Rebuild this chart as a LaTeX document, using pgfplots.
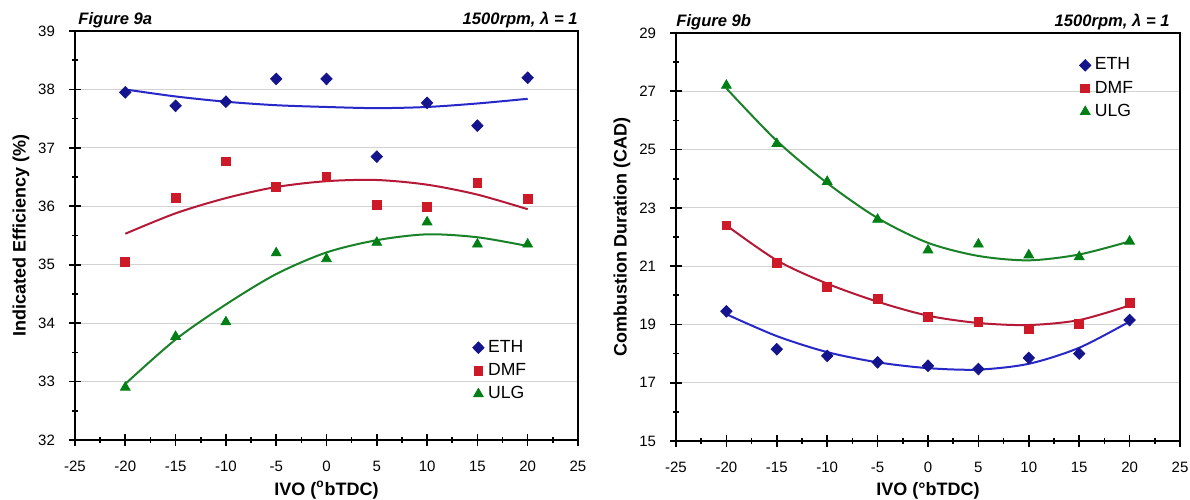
\documentclass[border=0pt]{standalone}
\usepackage{pgfplots}
\pgfplotsset{compat=1.18}
\usepackage{fontspec}
\setmainfont{Liberation Sans}
\definecolor{ethm}{RGB}{20,20,140}
\definecolor{dmfm}{RGB}{205,25,40}
\definecolor{ulgm}{RGB}{0,128,20}
\definecolor{ethl}{RGB}{40,40,200}
\definecolor{dmfl}{RGB}{180,25,55}
\definecolor{ulgl}{RGB}{25,130,40}
\pgfplotsset{
  myax/.style={
    scale only axis,
    width=251.5pt, height=204.5pt,
    xmin=-25, xmax=25,
    xtick={-25,-20,...,25},
    minor x tick num=1,
    minor y tick num=1,
    tick align=center,
    major tick length=6pt,
    minor tick length=3pt,
    tick pos=left,
    axis line style={line width=1.1pt},
    every tick/.style={black, line width=0.8pt},
    ymajorgrids,
    major grid style={gray!35, line width=0.6pt},
    /pgf/number format/assume math mode=true,
    tick label style={font=\fontsize{7.5}{8.5}\selectfont},
    yticklabel style={xshift=-3.5pt},
    xticklabel style={yshift=-4pt},
    every axis x label/.style={at={([yshift=-25pt]axis description cs:0.5,0)}, anchor=center},
    every axis y label/.style={at={([xshift=-27pt]axis description cs:0,0.5)}, anchor=center, rotate=90},
    label style={font=\fontsize{9}{10}\selectfont\bfseries},
    legend style={draw=none, fill=none, font=\fontsize{8.8}{10}\selectfont, row sep=0pt, inner sep=0pt},
    legend cell align=left,
    clip=false,
  },
  ethmark/.style={only marks, mark=diamond*, mark size=2.9pt, color=ethm, mark options={fill=ethm, xscale=1.3}},
  dmfmark/.style={only marks, mark=square*, mark size=2.2pt, color=dmfm, mark options={fill=dmfm}},
  ulgmark/.style={only marks, mark=triangle*, mark size=2.8pt, color=ulgm, mark options={fill=ulgm}},
}
\begin{document}
\begin{tikzpicture}
\useasboundingbox (-37.5pt,-29.5pt) rectangle (557.5pt,220pt);
% ---------- Figure 9a ----------
\begin{axis}[myax,
  ymin=32, ymax=39, ytick={32,33,...,39},
  xlabel={IVO (\textsuperscript{o}bTDC)},
  ylabel={Indicated Efficiency (\%)},
  legend style={at={(0.79,0.255)}, anchor=north west},
]
\addplot[ethmark] coordinates {(-20,37.95) (-15,37.72) (-10,37.79) (-5,38.18) (0,38.18) (5,36.85) (10,37.77) (15,37.38) (20,38.2)};
\addlegendentry{ETH}
\addplot[dmfmark] coordinates {(-20,35.05) (-15,36.15) (-10,36.77) (-5,36.33) (0,36.5) (5,36.02) (10,35.99) (15,36.4) (20,36.12)};
\addlegendentry{DMF}
\addplot[ulgmark] coordinates {(-20,32.9) (-15,33.77) (-10,34.02) (-5,35.2) (0,35.1) (5,35.38) (10,35.73) (15,35.35) (20,35.35)};
\addlegendentry{ULG}
\addplot[ethl, line width=1pt, smooth, forget plot] coordinates {(-20,38.0) (-15,37.88) (-10,37.79) (-5,37.73) (0,37.7) (5,37.68) (10,37.7) (15,37.76) (20,37.84)};
\addplot[dmfl, line width=1pt, smooth, forget plot] coordinates {(-20,35.53) (-15,35.88) (-10,36.14) (-5,36.33) (0,36.43) (5,36.45) (10,36.37) (15,36.2) (20,35.95)};
\addplot[ulgl, line width=1pt, smooth, forget plot] coordinates {(-20,32.96) (-15,33.72) (-10,34.32) (-5,34.84) (0,35.21) (5,35.42) (10,35.52) (15,35.47) (20,35.32)};
\node[anchor=base west, inner sep=0pt, font=\fontsize{8.3}{9}\selectfont\bfseries\itshape] at ([xshift=1.5pt,yshift=3.5pt]rel axis cs:0,1) {Figure 9a};
\node[anchor=base east, inner sep=0pt, font=\fontsize{8.3}{9}\selectfont\bfseries\itshape] at ([xshift=0pt,yshift=3.5pt]rel axis cs:1,1) {1500rpm, λ = 1};
\end{axis}
% ---------- Figure 9b ----------
\begin{axis}[myax, at={(300.5pt,-0.5pt)},
  width=252pt, height=204pt,
  ymin=15, ymax=29, ytick={15,17,...,29},
  xlabel={IVO (°bTDC)},
  ylabel={Combustion Duration (CAD)},
  legend style={at={(0.80,0.95)}, anchor=north west},
]
\addplot[ethmark] coordinates {(-20,19.45) (-15,18.15) (-10,17.92) (-5,17.7) (0,17.58) (5,17.47) (10,17.85) (15,18.0) (20,19.15)};
\addlegendentry{ETH}
\addplot[dmfmark] coordinates {(-20,22.4) (-15,21.12) (-10,20.3) (-5,19.88) (0,19.27) (5,19.08) (10,18.83) (15,19.02) (20,19.75)};
\addlegendentry{DMF}
\addplot[ulgmark] coordinates {(-20,27.2) (-15,25.2) (-10,23.9) (-5,22.6) (0,21.55) (5,21.75) (10,21.38) (15,21.32) (20,21.85)};
\addlegendentry{ULG}
\addplot[ethl, line width=1pt, smooth, forget plot] coordinates {(-20,19.35) (-15,18.6) (-10,18.05) (-5,17.7) (0,17.5) (5,17.45) (10,17.65) (15,18.2) (20,19.1)};
\addplot[dmfl, line width=1pt, smooth, forget plot] coordinates {(-20,22.4) (-15,21.2) (-10,20.4) (-5,19.78) (0,19.3) (5,19.05) (10,18.98) (15,19.15) (20,19.65)};
\addplot[ulgl, line width=1pt, smooth, forget plot] coordinates {(-20,27.1) (-15,25.3) (-10,23.85) (-5,22.65) (0,21.8) (5,21.35) (10,21.2) (15,21.4) (20,21.85)};
\node[anchor=base west, inner sep=0pt, font=\fontsize{8.3}{9}\selectfont\bfseries\itshape] at ([xshift=0pt,yshift=3.5pt]rel axis cs:0,1) {Figure 9b};
\node[anchor=base east, inner sep=0pt, font=\fontsize{8.3}{9}\selectfont\bfseries\itshape] at ([xshift=-5pt,yshift=3.5pt]rel axis cs:1,1) {1500rpm, λ = 1};
\end{axis}
\end{tikzpicture}
\end{document}
